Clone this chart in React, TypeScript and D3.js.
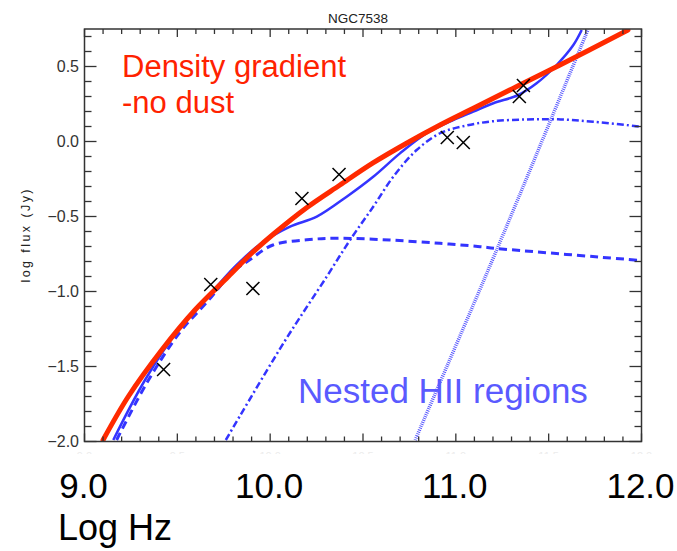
import React from "react";
import * as d3 from "d3";

// ---- data (log10 Hz, log10 Jy) ----
const obsX = [9.426, 9.68, 9.907, 10.171, 10.371, 10.954, 11.04, 11.342, 11.364];
const obsY = [-1.52, -0.953, -0.98, -0.38, -0.22, 0.027, -0.007, 0.3, 0.373];

const redX = [9.10, 9.236, 9.416, 9.595, 9.775, 9.90, 10.015, 10.198, 10.376, 10.554, 10.737, 10.915, 11.092, 11.308, 11.561, 11.927];
const redY = [-1.99, -1.70, -1.39, -1.123, -0.90, -0.745, -0.62, -0.44, -0.29, -0.143, -0.01, 0.11, 0.22, 0.354, 0.51, 0.743];

const totalX = [9.155, 9.326, 9.505, 9.649, 9.81, 9.945, 10.107, 10.251, 10.412, 10.555, 10.699, 10.843, 10.986, 11.094, 11.202, 11.336, 11.435, 11.543, 11.633, 11.678];
const totalY = [-1.99, -1.59, -1.257, -1.057, -0.835, -0.685, -0.568, -0.501, -0.368, -0.235, -0.079, 0.055, 0.143, 0.199, 0.255, 0.31, 0.388, 0.51, 0.643, 0.743];

const comp1X = [9.173, 9.34, 9.515, 9.66, 9.80, 9.90, 10.015, 10.197, 10.376, 10.645, 10.915, 11.13, 11.22, 11.995];
const comp1Y = [-1.99, -1.60, -1.27, -1.07, -0.87, -0.78, -0.69, -0.655, -0.645, -0.657, -0.679, -0.701, -0.713, -0.793];

const comp2X = [9.761, 10.074, 10.305, 10.43, 10.555, 10.663, 10.789, 10.915, 11.05, 11.2, 11.382, 11.55, 11.74, 11.995];
const comp2Y = [-1.99, -1.34, -0.90, -0.657, -0.435, -0.235, -0.057, 0.055, 0.105, 0.135, 0.147, 0.148, 0.132, 0.099];

const comp3X = [10.781, 11.222, 11.712];
const comp3Y = [-1.99, -0.717, 0.747];

const yTickValues = [0.5, 0.0, -0.5, -1.0, -1.5, -2.0];
const yTickLabels = ["0.5", "0.0", "\u22120.5", "\u22121.0", "\u22121.5", "\u22122.0"];
const xFaintValues = [9.0, 9.5, 10.0, 10.5, 11.0, 11.5, 12.0];
const xFaintLabels = ["9.0", "9.5", "10.0", "10.5", "11.0", "11.5", "12.0"];
const xBigValues = [9.0, 10.0, 11.0, 12.0];
const xBigLabels = ["9.0", "10.0", "11.0", "12.0"];

const title = "NGC7538";
const yAxisLabel = "log flux (Jy)";
const xAxisLabel = "Log Hz";
const redNote = ["Density gradient", "-no dust"];
const blueNote = "Nested HII regions";

const FONT = "'Liberation Sans', Arial, Helvetica, sans-serif";

export default function App() {
  const W = 677, H = 551;
  const L = 84.5, R = 641.5, T = 29, B = 441.5;
  const x = d3.scaleLinear().domain([9, 12]).range([L, R]);
  const y = d3.scaleLinear().domain([-2, 0.75]).range([B, T]);

  const mk = (xs: number[], ys: number[]) =>
    d3.line<number>().x((_, i) => x(xs[i])).y((_, i) => y(ys[i])).curve(d3.curveCatmullRom.alpha(0.5))(xs.map((_, i) => i)) || "";

  const minorX = d3.range(0, 31).map((i) => 9 + i * 0.1);
  const minorY = d3.range(0, 28).map((i) => -2 + i * 0.1);
  const isMajor = (v: number) => Math.abs(v * 2 - Math.round(v * 2)) < 1e-6;

  const axisColor = "#333";
  const blue = "#3434ff";

  return (
    <svg width={W} height={H} style={{ position: "absolute", left: 0, top: 0, background: "#fff" }} fontFamily={FONT}>
      <defs>
        <clipPath id="plot">
          <rect x={L} y={T} width={R - L} height={B - T} />
        </clipPath>
        <clipPath id="faint">
          <rect x={0} y={449} width={W} height={5} />
        </clipPath>
      </defs>
      <rect x={0} y={0} width={W} height={H} fill="#fff" />

      {/* title */}
      <text x={358} y={22.5} fontSize={13.5} textAnchor="middle" fill="#222">{title}</text>

      {/* y axis label */}
      <text transform={`translate(30,236) rotate(-90)`} fontSize={12.5} textAnchor="middle" fill="#222" textLength={93} lengthAdjust="spacing">{yAxisLabel}</text>

      {/* curves */}
      <g clipPath="url(#plot)" fill="none">
        <path d={mk(comp3X, comp3Y)} stroke="#5a5aff" strokeWidth={3.5} strokeDasharray="1,1.1" />
        <path d={mk(comp2X, comp2Y)} stroke={blue} strokeWidth={2.5} strokeDasharray="7,3,2,3" />
        <path d={mk(comp1X, comp1Y)} stroke={blue} strokeWidth={3} strokeDasharray="8,5" />
        <path d={mk(totalX, totalY)} stroke={blue} strokeWidth={2.5} />
        <path d={mk(redX, redY)} stroke="#ff2a00" strokeWidth={5} strokeLinecap="round" />
      </g>

      {/* observed points */}
      <g stroke="#000" strokeWidth={1.5}>
        {obsX.map((v, i) => {
          const cx = x(v), cy = y(obsY[i]), s = 6.5;
          return (
            <g key={i}>
              <line x1={cx - s} y1={cy - s} x2={cx + s} y2={cy + s} />
              <line x1={cx - s} y1={cy + s} x2={cx + s} y2={cy - s} />
            </g>
          );
        })}
      </g>

      {/* axes frame */}
      <rect x={L} y={T} width={R - L} height={B - T} fill="none" stroke={axisColor} strokeWidth={1.5} />
      <g stroke={axisColor} strokeWidth={1.3}>
        {minorX.map((v, i) => {
          const len = isMajor(v) ? 8 : 5;
          return (
            <g key={"xt" + i}>
              <line x1={x(v)} x2={x(v)} y1={B} y2={B - len} />
              <line x1={x(v)} x2={x(v)} y1={T} y2={T + len} />
            </g>
          );
        })}
        {minorY.map((v, i) => {
          const len = isMajor(v) ? 12 : 7;
          return (
            <g key={"yt" + i}>
              <line x1={L} x2={L + len} y1={y(v)} y2={y(v)} />
              <line x1={R} x2={R - len} y1={y(v)} y2={y(v)} />
            </g>
          );
        })}
      </g>

      {/* y tick labels */}
      {yTickValues.map((v, i) => (
        <text key={"yl" + i} x={79} y={y(v)} dy="0.36em" fontSize={16} textAnchor="end" fill="#333">{yTickLabels[i]}</text>
      ))}

      {/* faint remnants of original x tick labels */}
      <g clipPath="url(#faint)">
        {xFaintValues.map((v, i) => (
          <text key={"xf" + i} x={x(v)} y={460} fontSize={11} textAnchor="middle" fill="#ececec">{xFaintLabels[i]}</text>
        ))}
      </g>

      {/* big x labels */}
      {xBigValues.map((v, i) => (
        <text key={"xb" + i} x={x(v) - 1} y={498} fontSize={35} textAnchor="middle" fill="#000">{xBigLabels[i]}</text>
      ))}
      <text x={58} y={540} fontSize={36} fill="#000">{xAxisLabel}</text>

      {/* annotations */}
      <text x={122} y={77} fontSize={31} fill="#ff2200">{redNote[0]}</text>
      <text x={122} y={113} fontSize={31} fill="#ff2200">{redNote[1]}</text>
      <text x={298} y={403} fontSize={35} fill="#5a5aff">{blueNote}</text>
    </svg>
  );
}
